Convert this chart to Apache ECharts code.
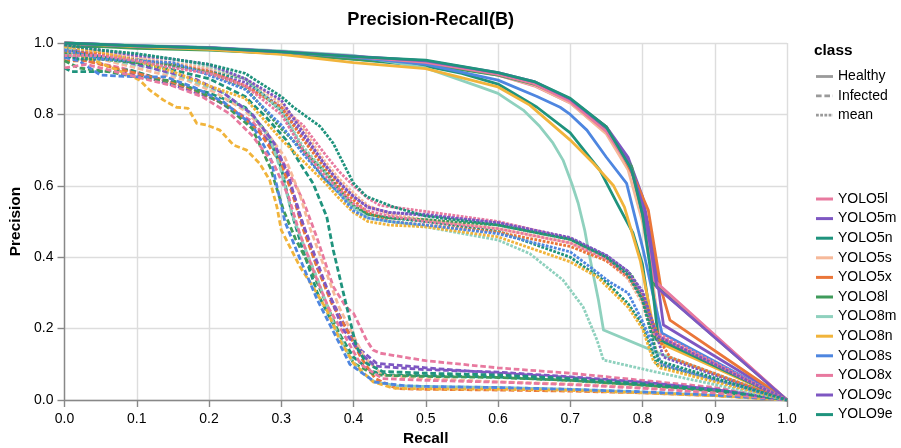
<!DOCTYPE html>
<html>
<head>
<meta charset="utf-8">
<script src="https://cdn.jsdelivr.net/npm/echarts@6/dist/echarts.min.js"></script>
<style>
  html, body { margin: 0; padding: 0; background: #fff; }
  #chart { width: 901px; height: 448px; }
</style>
</head>
<body>
<div id="chart"></div>
<script>
// models and their colours (same order as the legend)
const models = ['YOLO5l', 'YOLO5m', 'YOLO5n', 'YOLO5s', 'YOLO5x', 'YOLO8l', 'YOLO8m', 'YOLO8n', 'YOLO8s', 'YOLO8x', 'YOLO9c', 'YOLO9e'];
const colors = ['#e8799f', '#7e57c2', '#1f937d', '#f6b99a', '#ea7639', '#3f9b5b', '#8fd1be', '#f1b43b', '#4e86e0', '#e8799f', '#7e57c2', '#1f937d'];
const classes = ['Healthy', 'Infected', 'mean'];
const xTicks = [0, 0.1, 0.2, 0.3, 0.4, 0.5, 0.6, 0.7, 0.8, 0.9, 1.0];
const yTicks = [0, 0.2, 0.4, 0.6, 0.8, 1.0];

// Healthy curves [recall, precision]
const h5l = [[0,1],[0.1,0.99],[0.2,0.985],[0.3,0.973],[0.4,0.96],[0.5,0.945],[0.6,0.91],[0.65,0.88],[0.7,0.832],[0.75,0.748],[0.785,0.64],[0.8,0.52],[0.81,0.42],[0.818,0.328],[1,0]];
const h5m = [[0,1],[0.1,0.992],[0.2,0.986],[0.3,0.975],[0.4,0.962],[0.5,0.95],[0.6,0.915],[0.65,0.89],[0.7,0.842],[0.75,0.765],[0.78,0.68],[0.8,0.57],[0.815,0.42],[0.829,0.21],[1,0]];
const h5n = [[0,1],[0.1,0.99],[0.2,0.982],[0.3,0.97],[0.4,0.955],[0.5,0.935],[0.55,0.915],[0.6,0.885],[0.654,0.82],[0.7,0.748],[0.741,0.644],[0.765,0.55],[0.787,0.467],[0.8,0.38],[0.815,0.178],[0.82,0.168],[1,0]];
const h5s = [[0,1],[0.1,0.99],[0.2,0.985],[0.3,0.974],[0.4,0.96],[0.5,0.945],[0.6,0.91],[0.65,0.882],[0.7,0.832],[0.75,0.745],[0.78,0.645],[0.8,0.5],[0.812,0.36],[0.825,0.175],[1,0]];
const h5x = [[0,1],[0.1,0.99],[0.2,0.985],[0.3,0.974],[0.4,0.96],[0.5,0.947],[0.6,0.912],[0.65,0.887],[0.7,0.84],[0.75,0.765],[0.769,0.7],[0.788,0.625],[0.808,0.532],[0.817,0.42],[0.826,0.308],[0.838,0.224],[1,0]];
const h8l = [[0,0.99],[0.05,0.99],[0.1,0.985],[0.2,0.98],[0.3,0.97],[0.4,0.955],[0.5,0.94],[0.6,0.91],[0.65,0.885],[0.7,0.84],[0.75,0.76],[0.785,0.654],[0.801,0.513],[0.81,0.42],[0.817,0.322],[1,0]];
const h8m = [[0,1],[0.1,0.993],[0.2,0.988],[0.3,0.978],[0.4,0.965],[0.45,0.948],[0.5,0.93],[0.575,0.877],[0.6,0.859],[0.617,0.836],[0.635,0.812],[0.658,0.766],[0.676,0.72],[0.69,0.672],[0.702,0.607],[0.711,0.551],[0.72,0.476],[0.725,0.42],[0.739,0.28],[0.746,0.196],[0.83,0.125],[1,0]];
const h8n = [[0,1],[0.1,0.99],[0.2,0.982],[0.3,0.968],[0.4,0.945],[0.5,0.928],[0.6,0.877],[0.644,0.826],[0.7,0.728],[0.732,0.663],[0.76,0.6],[0.775,0.54],[0.797,0.39],[0.815,0.205],[0.824,0.16],[1,0]];
const h8s = [[0,1],[0.1,0.992],[0.2,0.987],[0.3,0.975],[0.4,0.96],[0.5,0.94],[0.6,0.896],[0.654,0.85],[0.686,0.82],[0.7,0.8],[0.723,0.756],[0.75,0.68],[0.778,0.607],[0.801,0.42],[0.815,0.29],[0.827,0.187],[1,0]];
const h8x = [[0,1],[0.1,0.991],[0.2,0.986],[0.3,0.975],[0.4,0.962],[0.5,0.946],[0.6,0.912],[0.65,0.886],[0.7,0.836],[0.75,0.752],[0.785,0.645],[0.8,0.525],[0.81,0.43],[0.816,0.335],[1,0]];
const h9c = [[0,1],[0.1,0.992],[0.2,0.987],[0.3,0.976],[0.4,0.963],[0.5,0.95],[0.6,0.917],[0.65,0.892],[0.7,0.843],[0.75,0.763],[0.78,0.67],[0.8,0.55],[0.812,0.42],[0.82,0.315],[1,0]];
const h9e = [[0,1],[0.1,0.992],[0.2,0.986],[0.3,0.975],[0.4,0.962],[0.5,0.952],[0.6,0.917],[0.65,0.892],[0.7,0.845],[0.75,0.765],[0.785,0.645],[0.8,0.52],[0.81,0.38],[0.822,0.17],[1,0]];

// Infected curves
const i5l = [[0,0.97],[0.03,0.95],[0.08,0.93],[0.13,0.9],[0.18,0.87],[0.22,0.83],[0.26,0.78],[0.29,0.71],[0.31,0.64],[0.33,0.56],[0.349,0.457],[0.372,0.317],[0.39,0.26],[0.4,0.243],[0.418,0.168],[0.427,0.14],[0.437,0.131],[0.5,0.11],[0.6,0.09],[0.7,0.075],[0.8,0.055],[0.9,0.035],[1,0]];
const i5m = [[0,0.96],[0.04,0.95],[0.08,0.92],[0.12,0.9],[0.17,0.87],[0.21,0.84],[0.25,0.79],[0.28,0.73],[0.3,0.67],[0.32,0.56],[0.335,0.46],[0.35,0.37],[0.37,0.28],[0.39,0.2],[0.41,0.14],[0.432,0.103],[0.5,0.09],[0.6,0.075],[0.7,0.063],[0.8,0.048],[0.9,0.03],[1,0]];
const i5n = [[0,0.93],[0.01,0.92],[0.05,0.92],[0.09,0.925],[0.15,0.887],[0.2,0.86],[0.25,0.82],[0.28,0.75],[0.3,0.65],[0.315,0.52],[0.33,0.42],[0.35,0.3],[0.37,0.22],[0.385,0.17],[0.4,0.12],[0.425,0.08],[0.45,0.07],[0.5,0.068],[0.6,0.064],[0.7,0.055],[0.8,0.042],[0.9,0.025],[1,0]];
const i5s = [[0,0.98],[0.04,0.96],[0.08,0.94],[0.12,0.92],[0.17,0.895],[0.21,0.86],[0.25,0.81],[0.28,0.75],[0.305,0.68],[0.325,0.58],[0.34,0.48],[0.36,0.37],[0.38,0.26],[0.395,0.2],[0.415,0.12],[0.44,0.07],[0.5,0.06],[0.6,0.051],[0.7,0.045],[0.8,0.035],[0.9,0.022],[1,0]];
const i5x = [[0,0.95],[0.03,0.95],[0.07,0.93],[0.11,0.91],[0.15,0.89],[0.19,0.86],[0.23,0.82],[0.27,0.75],[0.3,0.66],[0.315,0.58],[0.33,0.48],[0.35,0.37],[0.37,0.27],[0.39,0.2],[0.41,0.12],[0.43,0.06],[0.46,0.032],[0.5,0.03],[0.6,0.028],[0.7,0.025],[0.8,0.02],[0.9,0.012],[1,0]];
const i8l = [[0,0.95],[0.02,0.93],[0.06,0.92],[0.1,0.905],[0.13,0.896],[0.15,0.895],[0.18,0.87],[0.22,0.83],[0.26,0.76],[0.285,0.65],[0.303,0.532],[0.32,0.45],[0.34,0.373],[0.356,0.3],[0.372,0.224],[0.386,0.16],[0.4,0.103],[0.43,0.07],[0.5,0.066],[0.6,0.063],[0.7,0.055],[0.8,0.042],[0.9,0.026],[1,0]];
const i8m = [[0,0.97],[0.03,0.965],[0.07,0.95],[0.12,0.93],[0.17,0.9],[0.22,0.86],[0.26,0.8],[0.285,0.73],[0.3,0.64],[0.315,0.52],[0.33,0.44],[0.35,0.34],[0.375,0.2],[0.395,0.12],[0.41,0.08],[0.43,0.05],[0.46,0.04],[0.5,0.038],[0.6,0.035],[0.7,0.03],[0.8,0.022],[0.9,0.013],[1,0]];
const i8n = [[0,0.98],[0.03,0.96],[0.06,0.935],[0.09,0.91],[0.104,0.896],[0.118,0.868],[0.137,0.84],[0.155,0.82],[0.171,0.817],[0.183,0.775],[0.197,0.77],[0.215,0.756],[0.234,0.714],[0.252,0.7],[0.27,0.663],[0.284,0.616],[0.294,0.541],[0.3,0.476],[0.326,0.373],[0.344,0.317],[0.363,0.252],[0.381,0.168],[0.4,0.103],[0.427,0.051],[0.455,0.033],[0.5,0.031],[0.6,0.03],[0.7,0.027],[0.8,0.02],[0.9,0.012],[1,0]];
const i8s = [[0,0.96],[0.02,0.95],[0.05,0.91],[0.1,0.905],[0.14,0.905],[0.18,0.875],[0.22,0.835],[0.26,0.77],[0.285,0.68],[0.305,0.5],[0.325,0.4],[0.35,0.28],[0.37,0.2],[0.395,0.1],[0.43,0.05],[0.47,0.04],[0.5,0.038],[0.6,0.035],[0.7,0.03],[0.8,0.023],[0.9,0.014],[1,0]];
const i8x = [[0,0.93],[0.03,0.94],[0.07,0.92],[0.11,0.9],[0.15,0.88],[0.19,0.85],[0.23,0.8],[0.26,0.74],[0.29,0.66],[0.31,0.57],[0.325,0.47],[0.345,0.36],[0.365,0.26],[0.385,0.19],[0.41,0.1],[0.44,0.06],[0.5,0.055],[0.6,0.05],[0.7,0.043],[0.8,0.033],[0.9,0.02],[1,0]];
const i9c = [[0,0.99],[0.03,0.97],[0.07,0.955],[0.1,0.94],[0.14,0.92],[0.18,0.9],[0.22,0.86],[0.26,0.8],[0.29,0.72],[0.31,0.63],[0.325,0.52],[0.34,0.44],[0.36,0.33],[0.385,0.2],[0.41,0.13],[0.43,0.095],[0.5,0.085],[0.6,0.078],[0.7,0.065],[0.8,0.05],[0.9,0.03],[1,0]];
const i9e = [[0,0.99],[0.02,0.97],[0.05,0.96],[0.1,0.945],[0.15,0.925],[0.2,0.9],[0.25,0.85],[0.28,0.79],[0.307,0.728],[0.326,0.663],[0.344,0.607],[0.363,0.513],[0.372,0.42],[0.386,0.3],[0.395,0.224],[0.404,0.149],[0.418,0.103],[0.44,0.08],[0.5,0.075],[0.6,0.07],[0.7,0.06],[0.8,0.045],[0.9,0.028],[1,0]];

// mean curves
const m5l = [[0,0.985],[0.05,0.975],[0.1,0.96],[0.15,0.94],[0.2,0.925],[0.25,0.88],[0.3,0.82],[0.33,0.77],[0.36,0.69],[0.38,0.64],[0.4,0.6],[0.42,0.565],[0.437,0.545],[0.5,0.528],[0.6,0.5],[0.7,0.453],[0.75,0.4],[0.78,0.34],[0.8,0.28],[0.818,0.19],[1,0]];
const m5m = [[0,0.98],[0.05,0.97],[0.1,0.955],[0.15,0.935],[0.2,0.915],[0.25,0.89],[0.3,0.82],[0.33,0.74],[0.36,0.66],[0.38,0.61],[0.4,0.57],[0.42,0.54],[0.45,0.525],[0.5,0.52],[0.6,0.495],[0.7,0.452],[0.75,0.405],[0.78,0.36],[0.8,0.305],[0.829,0.12],[1,0]];
const m5n = [[0,0.965],[0.02,0.955],[0.05,0.955],[0.1,0.955],[0.15,0.935],[0.2,0.92],[0.25,0.9],[0.3,0.81],[0.33,0.7],[0.36,0.62],[0.38,0.58],[0.4,0.54],[0.42,0.52],[0.45,0.51],[0.5,0.5],[0.6,0.473],[0.7,0.4],[0.75,0.33],[0.78,0.27],[0.8,0.21],[0.82,0.1],[1,0]];
const m5s = [[0,0.99],[0.05,0.975],[0.1,0.96],[0.15,0.945],[0.2,0.93],[0.25,0.9],[0.3,0.83],[0.33,0.76],[0.36,0.67],[0.38,0.62],[0.4,0.58],[0.42,0.545],[0.45,0.52],[0.5,0.505],[0.6,0.48],[0.7,0.44],[0.75,0.39],[0.78,0.34],[0.8,0.27],[0.825,0.1],[1,0]];
const m5x = [[0,0.975],[0.05,0.97],[0.1,0.95],[0.15,0.94],[0.2,0.92],[0.25,0.88],[0.3,0.82],[0.33,0.73],[0.36,0.65],[0.38,0.6],[0.4,0.56],[0.42,0.525],[0.45,0.5],[0.5,0.49],[0.6,0.47],[0.7,0.43],[0.75,0.39],[0.78,0.345],[0.8,0.29],[0.826,0.16],[0.838,0.12],[1,0]];
const m8l = [[0,0.97],[0.05,0.955],[0.1,0.945],[0.15,0.94],[0.2,0.915],[0.25,0.875],[0.3,0.76],[0.33,0.7],[0.36,0.64],[0.38,0.59],[0.4,0.545],[0.42,0.52],[0.45,0.51],[0.5,0.505],[0.6,0.49],[0.7,0.45],[0.75,0.4],[0.785,0.35],[0.8,0.28],[0.817,0.18],[1,0]];
const m8m = [[0,0.985],[0.05,0.98],[0.1,0.97],[0.15,0.955],[0.2,0.935],[0.25,0.9],[0.3,0.81],[0.33,0.71],[0.36,0.64],[0.38,0.58],[0.4,0.54],[0.42,0.51],[0.45,0.5],[0.5,0.485],[0.6,0.448],[0.644,0.41],[0.69,0.336],[0.718,0.26],[0.737,0.168],[0.746,0.112],[0.815,0.08],[1,0]];
const m8n = [[0,0.99],[0.05,0.975],[0.1,0.95],[0.15,0.92],[0.2,0.88],[0.25,0.845],[0.3,0.73],[0.33,0.67],[0.36,0.61],[0.38,0.565],[0.4,0.525],[0.42,0.5],[0.45,0.49],[0.5,0.485],[0.6,0.457],[0.7,0.387],[0.737,0.345],[0.76,0.3],[0.78,0.26],[0.8,0.2],[0.815,0.11],[0.824,0.09],[1,0]];
const m8s = [[0,0.98],[0.05,0.955],[0.1,0.95],[0.15,0.945],[0.2,0.91],[0.25,0.87],[0.3,0.77],[0.33,0.69],[0.36,0.62],[0.38,0.58],[0.4,0.53],[0.42,0.51],[0.45,0.5],[0.5,0.49],[0.6,0.466],[0.7,0.415],[0.755,0.33],[0.78,0.3],[0.8,0.22],[0.815,0.15],[0.827,0.1],[1,0]];
const m8x = [[0,0.965],[0.05,0.965],[0.1,0.95],[0.15,0.93],[0.2,0.915],[0.25,0.88],[0.3,0.8],[0.33,0.7],[0.36,0.63],[0.38,0.59],[0.4,0.55],[0.42,0.53],[0.45,0.515],[0.5,0.5],[0.6,0.48],[0.7,0.44],[0.75,0.395],[0.785,0.34],[0.8,0.28],[0.816,0.185],[1,0]];
const m9c = [[0,0.995],[0.05,0.98],[0.1,0.965],[0.15,0.955],[0.2,0.94],[0.25,0.9],[0.3,0.84],[0.33,0.75],[0.36,0.66],[0.38,0.61],[0.4,0.57],[0.42,0.54],[0.45,0.525],[0.5,0.517],[0.6,0.497],[0.7,0.455],[0.75,0.405],[0.78,0.36],[0.8,0.3],[0.82,0.18],[1,0]];
const m9e = [[0,0.995],[0.05,0.98],[0.1,0.97],[0.15,0.955],[0.2,0.94],[0.25,0.915],[0.3,0.85],[0.317,0.82],[0.354,0.766],[0.372,0.719],[0.386,0.663],[0.4,0.607],[0.418,0.57],[0.455,0.541],[0.5,0.515],[0.6,0.49],[0.7,0.45],[0.75,0.4],[0.78,0.35],[0.8,0.28],[0.822,0.11],[1,0]];

const healthy = [h5l, h5m, h5n, h5s, h5x, h8l, h8m, h8n, h8s, h8x, h9c, h9e];
const infected = [i5l, i5m, i5n, i5s, i5x, i8l, i8m, i8n, i8s, i8x, i9c, i9e];
const meanC = [m5l, m5m, m5n, m5s, m5x, m8l, m8m, m8n, m8s, m8x, m9c, m9e];

const FONT = '"Liberation Sans", Arial, Helvetica, sans-serif';
const dashes = { Healthy: 'solid', Infected: [5.6, 2.8], mean: [2.8, 1.4] };

const series = [];
[healthy, infected, meanC].forEach((group, gi) => {
  group.forEach((pts, mi) => {
    series.push({
      name: models[mi],
      type: 'line',
      data: pts,
      symbol: 'none',
      silent: true,
      animation: false,
      z: 2 + gi,
      lineStyle: { color: colors[mi], width: 2.8, type: dashes[classes[gi]], cap: 'butt', join: 'round' },
      itemStyle: { color: colors[mi] },
      emphasis: { disabled: true }
    });
  });
});

// class legend (stroke dash)
const classLegend = [
  { type: 'text', x: 814, y: 51, style: { text: 'class', font: 'bold 15.4px ' + FONT, fill: '#000', verticalAlign: 'middle' } }
];
classes.forEach((c, k) => {
  const y = 76.5 + k * 19.3;
  classLegend.push({
    type: 'line', shape: { x1: 816, y1: y, x2: 833, y2: y },
    style: { stroke: '#9a9a9a', lineWidth: 2.8, lineDash: c === 'Healthy' ? null : dashes[c] }
  });
  classLegend.push({
    type: 'text', x: 838, y: y, style: { text: c, font: '14px ' + FONT, fill: '#000', verticalAlign: 'middle' }
  });
});

const chart = echarts.init(document.getElementById('chart'), null, { renderer: 'canvas' });
chart.setOption({
  backgroundColor: '#fff',
  animation: false,
  title: {
    text: 'Precision-Recall(B)',
    left: 425.75,
    textAlign: 'center',
    top: 6,
    textStyle: { fontFamily: FONT, fontWeight: 'bold', fontSize: 18.2, color: '#000' }
  },
  grid: { left: 64.5, right: 114, top: 43, bottom: 48, outerBoundsMode: 'none' },
  xAxis: {
    type: 'value', min: 0, max: 1, interval: 0.1,
    name: 'Recall', nameLocation: 'middle', nameGap: 30,
    nameTextStyle: { fontFamily: FONT, fontWeight: 'bold', fontSize: 15.4, color: '#000' },
    axisLine: { show: true, lineStyle: { color: '#888', width: 1.4 } },
    axisTick: { show: true, length: 7, lineStyle: { color: '#888', width: 1.4 } },
    axisLabel: { fontFamily: FONT, fontSize: 14, color: '#000', margin: 12, formatter: v => v.toFixed(1), customValues: xTicks },
    splitLine: { show: true, lineStyle: { color: '#ddd', width: 1.4 } }
  },
  yAxis: {
    type: 'value', min: 0, max: 1, interval: 0.2,
    name: 'Precision', nameLocation: 'middle', nameGap: 36, nameRotate: 90,
    nameTextStyle: { fontFamily: FONT, fontWeight: 'bold', fontSize: 15.4, color: '#000' },
    axisLine: { show: true, lineStyle: { color: '#888', width: 1.4 } },
    axisTick: { show: true, length: 7, lineStyle: { color: '#888', width: 1.4 } },
    axisLabel: { fontFamily: FONT, fontSize: 14, color: '#000', margin: 11, formatter: v => v.toFixed(1), customValues: yTicks },
    splitLine: { show: true, lineStyle: { color: '#ddd', width: 1.4 } }
  },
  legend: {
    data: models,
    orient: 'vertical',
    left: 816,
    top: 192,
    padding: 0,
    icon: 'rect',
    itemWidth: 17,
    itemHeight: 3,
    itemGap: 5.6,
    selectedMode: false,
    textStyle: { fontFamily: FONT, fontSize: 14, color: '#000' }
  },
  graphic: classLegend,
  series: series
});
</script>
</body>
</html>
